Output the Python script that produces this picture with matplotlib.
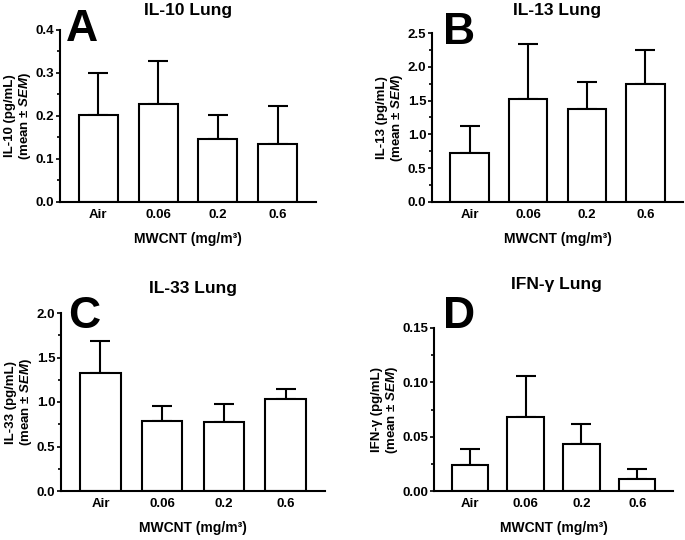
import matplotlib
matplotlib.use('Agg')
import matplotlib.pyplot as plt
from matplotlib.ticker import MultipleLocator, FormatStrFormatter

plt.rcParams['font.family'] = ['Liberation Sans', 'DejaVu Sans']
plt.rcParams['font.weight'] = 'bold'
plt.rcParams['mathtext.fontset'] = 'custom'
plt.rcParams['mathtext.it'] = 'Liberation Sans:italic:bold'
plt.rcParams['mathtext.rm'] = 'Liberation Sans:bold'
plt.rcParams['mathtext.bf'] = 'Liberation Sans:bold'

groups = ['Air', '0.06', '0.2', '0.6']

il10_mean = [0.203, 0.227, 0.146, 0.136]
il10_sem = [0.097, 0.100, 0.056, 0.087]
il13_mean = [0.72, 1.53, 1.38, 1.75]
il13_sem = [0.41, 0.80, 0.395, 0.495]
il33_mean = [1.33, 0.785, 0.77, 1.035]
il33_sem = [0.36, 0.172, 0.202, 0.114]
ifng_mean = [0.0235, 0.0677, 0.0428, 0.0115]
ifng_sem = [0.0155, 0.0383, 0.0184, 0.0085]

W, H = 685, 540
fig = plt.figure(figsize=(W / 100, H / 100), dpi=100)


def px_axes(left, right, top, bottom):
    return fig.add_axes([left / W, 1 - bottom / H, (right - left) / W, (bottom - top) / H])


panels = [
    # means, sems, ymax, major, fmt, cytokine, letter, axes box, letter xy, title xy
    (il10_mean, il10_sem, 0.4, 0.1, '%.1f', 'IL-10', 'A', (60, 316, 30, 202), (66, 9), (188, 10)),
    (il13_mean, il13_sem, 2.5, 0.5, '%.1f', 'IL-13', 'B', (432, 683, 33, 202), (443, 12), (557, 11)),
    (il33_mean, il33_sem, 2.0, 0.5, '%.1f', 'IL-33', 'C', (61, 325, 313, 491), (68, 296), (193, 288)),
    (ifng_mean, ifng_sem, 0.15, 0.05, '%.2f', 'IFN-γ', 'D', (434, 673, 328, 491), (443, 296), (556, 285)),
]

x = list(range(len(groups)))
for means, sems, ymax, major, fmt, name, letter, box, lxy, txy in panels:
    ax = px_axes(*box)
    ax.errorbar(x, means, yerr=[[0] * len(sems), sems], fmt='none', ecolor='black',
                elinewidth=1.5, capsize=7.5, capthick=1.5, zorder=1)
    ax.bar(x, means, width=0.65, color='white', edgecolor='black', linewidth=1.5, zorder=2)
    ax.set_xlim(-0.64, 3.64)
    ax.set_ylim(0, ymax)
    ax.yaxis.set_major_locator(MultipleLocator(major))
    ax.yaxis.set_minor_locator(MultipleLocator(major / 2))
    ax.yaxis.set_major_formatter(FormatStrFormatter(fmt))
    ax.set_xticks(x)
    ax.set_xticklabels(groups)
    ax.tick_params(axis='x', length=0, pad=5, labelsize=9.5)
    ax.tick_params(axis='y', which='major', length=3, width=1.2, labelsize=9.5, pad=1)
    ax.tick_params(axis='y', which='minor', length=2.2, width=1.2)
    for s in ['top', 'right']:
        ax.spines[s].set_visible(False)
    for s in ['left', 'bottom']:
        ax.spines[s].set_linewidth(1.5)
    ax.set_xlabel('MWCNT (mg/m³)', fontsize=10, fontweight='bold', labelpad=8)
    ax.set_ylabel(name + ' (pg/mL)\n(mean ± $\\it{SEM}$)', fontsize=9.5, fontweight='bold',
                  labelpad=2, linespacing=1.1)
    fig.text(lxy[0] / W, 1 - lxy[1] / H, letter, fontsize=32, fontweight='bold',
             ha='left', va='top')
    fig.text(txy[0] / W, 1 - txy[1] / H, name + ' Lung', fontsize=12.5, fontweight='bold',
             ha='center', va='center')

plt.savefig('out.png', dpi=100)
